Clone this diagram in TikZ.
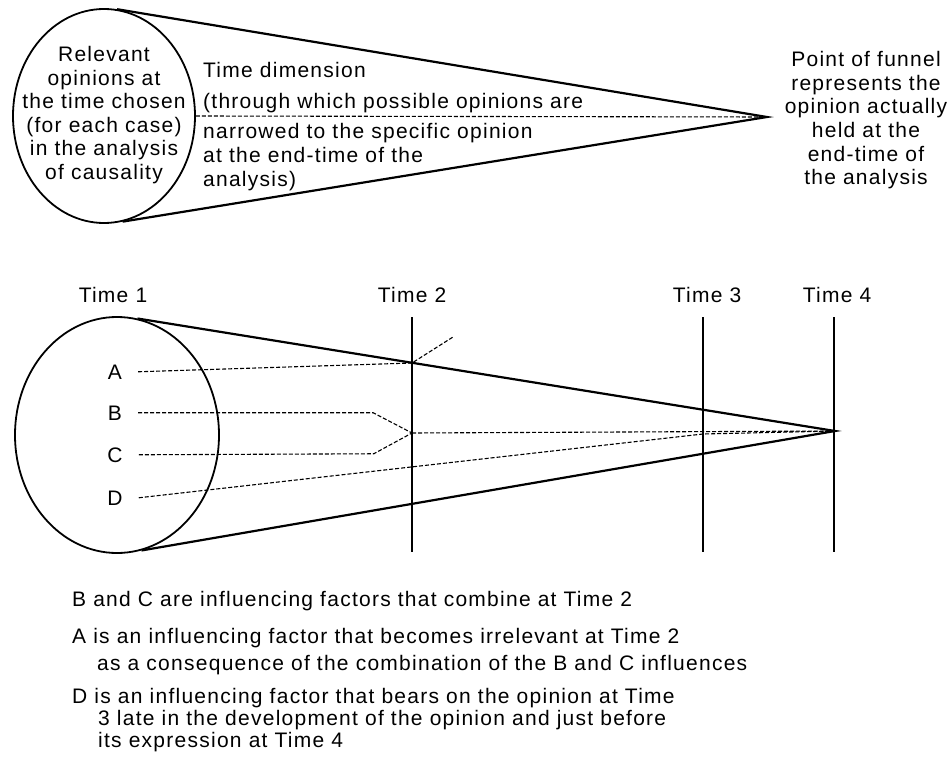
\documentclass[tikz,border=0pt]{standalone}
\usepackage{fontspec}
\setmainfont{Liberation Sans}[LetterSpace=6]
\usetikzlibrary{shapes.geometric}
\tikzset{
  funneltext/.style={font=\fontsize{21}{23.5}\selectfont, inner sep=0pt, anchor=base},
  notetext/.style={funneltext, anchor=base west},
  rimline/.style={draw, ellipse, line width=1.8pt, inner sep=0pt},
  funnelline/.style={line width=2.2pt, line join=miter},
  timeline/.style={line width=1.6pt},
  factorpath/.style={line width=1.1pt, dash pattern=on 4pt off 2pt}
}

\begin{document}
\begin{tikzpicture}[x=1pt,y=-1pt]
  \useasboundingbox (0,0) rectangle (950,762);
  % upper funnel: chosen time to end-time
  \node[rimline, minimum width=182pt, minimum height=214pt] (mouth) at (104,116) {};
  \coordinate (point) at (767,117);
  \draw[funnelline] (mouth.83) -- (point) -- (mouth.-80);
  \draw[factorpath] (mouth.east) -- (point);
  \foreach \y/\t [count=\i] in {62/Relevant, 85.5/opinions at, 109/the time chosen,
    132.5/{(for each case)}, 156/in the analysis, 180/of causality} {
    \node[funneltext] (relevant\i) at (104,\y) {\t};
  }
  \foreach \y/\t [count=\i] in {78/Time dimension, 109/{(through which possible opinions are},
    139/narrowed to the specific opinion, 162.5/at the end-time of the, 186/{analysis)}} {
    \node[notetext] (dimension\i) at (203,\y) {\t};
  }
  \foreach \y/\t [count=\i] in {67/Point of funnel, 90.5/represents the, 114/opinion actually,
    138/held at the, 161.5/end-time of, 185/the analysis} {
    \node[funneltext] (tip\i) at (866,\y) {\t};
  }

  % lower funnel: factors A--D over Time 1 to Time 4
  \node[rimline, minimum width=204pt, minimum height=236pt] (mouth2) at (117,435) {};
  \coordinate (end) at (835,431);
  \draw[funnelline] (mouth2.80) -- (end) -- (mouth2.-78);
  \node[funneltext] (time1) at (113,302) {Time 1};
  \foreach \x/\l/\n in {412/412/2, 703/707/3, 834/837/4} {
    \node[funneltext] (time\n) at (\l,302) {Time \n};
    \coordinate (top\n) at (\x,317);
    \coordinate (bot\n) at (\x,552);
    \draw[timeline] (top\n) -- (bot\n);
  }
  \foreach \y/\f in {379/A, 420/B, 462/C, 505/D} {
    \node[funneltext] (fac\f) at (115,\y) {\f};
  }
  \coordinate (lost) at (412,363);
  \coordinate (merge) at (412,433);
  \coordinate (late) at (703,434);
  \draw[factorpath] ([xshift=16pt]facA.east) -- (lost) -- ++(41,-26);
  \draw[factorpath] ([xshift=16pt]facB.east) -- ++(235,0) -- (merge);
  \draw[factorpath] ([xshift=16pt]facC.east) -- ++(235,-1) -- (merge);
  \draw[factorpath] (merge) -- (end);
  \draw[factorpath] ([xshift=16pt]facD.east) -- (late) -- (end);

  \foreach \x/\y/\t [count=\i] in {
    72/606/B and C are influencing factors that combine at Time 2,
    72/643/A is an influencing factor that becomes irrelevant at Time 2,
    97/670/as a consequence of the combination of the B and C influences,
    72/703/D is an influencing factor that bears on the opinion at Time,
    98/725/3 late in the development of the opinion and just before,
    98/747/its expression at Time 4} {
    \node[notetext] (note\i) at (\x,\y) {\t};
  }
\end{tikzpicture}
\end{document}
